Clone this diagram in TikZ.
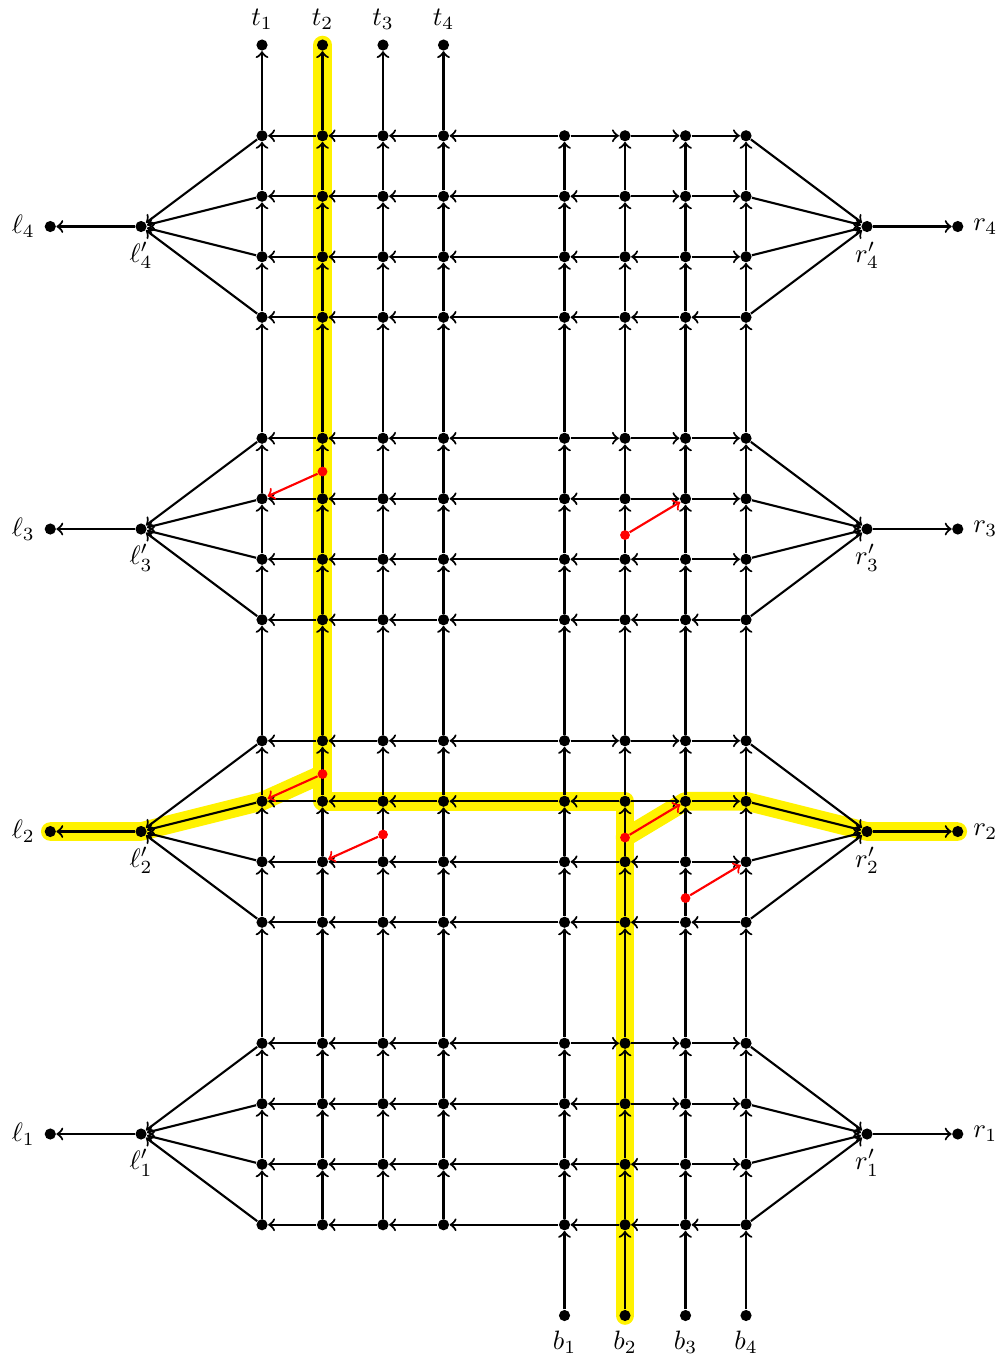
\documentclass[tikz,border=0pt]{standalone}
\usetikzlibrary{backgrounds}
\begin{document}
\begin{tikzpicture}[x=0.8cm, y=0.8cm, >=to,
        dot/.style={circle, fill=black, inner sep=0pt, minimum size=4.2pt},
        reddot/.style={circle, fill=red, inner sep=0pt, minimum size=3.7pt},
        edge/.style={thick, ->},
        redge/.style={thick, ->, red},
        highlight/.style={line width=7pt, yellow, line cap=round, line join=round}]
        \useasboundingbox (-4.331,-21.752) rectangle (12.281,0.744);

        % -- Grille : 4 groupes de 4 lignes --
        \foreach \g in {1,...,4} {
            \foreach \k in {0,...,3} {
                \pgfmathsetmacro{\y}{-1.5-5*(4-\g)-\k}
                \foreach \j/\x in {1/0,2/1,3/2,4/3,5/5,6/6,7/7,8/8}
                    \node[dot] (n\g\k\j) at (\x,\y) {};
            }
            % Sommets gauche / droite du groupe
            \pgfmathsetmacro{\yc}{-3-5*(4-\g)}
            \node[dot, label=below:{$\ell'_{\g}$}] (lp\g) at (-2,\yc) {};
            \node[dot, label=left:{$\ell_{\g}$}] (l\g) at (-3.5,\yc) {};
            \node[dot, label=below:{$r'_{\g}$}] (rp\g) at (10,\yc) {};
            \node[dot, label=right:{$r_{\g}$}] (r\g) at (11.5,\yc) {};
        }

        % Sommets haut (t) et bas (b)
        \foreach \j/\x in {1/0,2/1,3/2,4/3} \node[dot, label=above:{$t_{\j}$}] (t\j) at (\x,0) {};
        \foreach \j/\x in {1/5,2/6,3/7,4/8} \node[dot, label=below:{$b_{\j}$}] (b\j) at (\x,-21) {};

        % -- Arcs horizontaux --
        \foreach \g in {1,...,4} {
            \foreach \k in {0,...,3} {
                % partie gauche : vers la gauche
                \foreach \j [evaluate=\j as \i using int(\j+1)] in {1,...,4}
                    \draw[edge] (n\g\k\i) -- (n\g\k\j);
                % partie droite : source en colonne 5+k
                \foreach \m in {0,1,2} {
                    \pgfmathtruncatemacro{\ja}{5+\m}
                    \pgfmathtruncatemacro{\jb}{6+\m}
                    \ifnum\m<\k
                        \draw[edge] (n\g\k\jb) -- (n\g\k\ja);
                    \else
                        \draw[edge] (n\g\k\ja) -- (n\g\k\jb);
                    \fi
                }
                % éventails
                \draw[edge] (n\g\k1) -- (lp\g);
                \draw[edge] (n\g\k8) -- (rp\g);
            }
            \draw[edge] (lp\g) -- (l\g);
            \draw[edge] (rp\g) -- (r\g);
        }

        % -- Arcs verticaux (vers le haut) --
        \foreach \j in {1,...,8} {
            \foreach \g in {1,...,4} {
                \foreach \k in {1,2,3} {
                    \pgfmathtruncatemacro{\kl}{\k-1}
                    \draw[edge] (n\g\k\j) -- (n\g\kl\j);
                }
            }
            \foreach \g in {2,3,4} {
                \pgfmathtruncatemacro{\gl}{\g-1}
                \draw[edge] (n\gl0\j) -- (n\g3\j);
            }
        }
        \foreach \j in {1,...,4} \draw[edge] (n40\j) -- (t\j);
        \foreach \i [evaluate=\i as \j using int(\i+4)] in {1,...,4} \draw[edge] (b\i) -- (n13\j);

        % -- Raccourcis rouges --
        \node[reddot] (x1) at (1,-7.05) {};
        \node[reddot] (x2) at (6,-8.1) {};
        \node[reddot] (x3) at (1,-12.05) {};
        \node[reddot] (x4) at (2,-13.05) {};
        \node[reddot] (x5) at (6,-13.1) {};
        \node[reddot] (x6) at (7,-14.1) {};
        \draw[redge] (x1) -- (n311);
        \draw[redge] (x2) -- (n317);
        \draw[redge] (x3) -- (n211);
        \draw[redge] (x4) -- (n222);
        \draw[redge] (x5) -- (n217);
        \draw[redge] (x6) -- (n228);

        % -- Chemin surligné --
        \begin{pgfonlayer}{background}
            \draw[highlight] (t2.center) -- (n212.center) -- (n216.center) -- (b2.center);
            \draw[highlight] (l2.center) -- (lp2.center) -- (n211.center) -- (x3.center);
            \draw[highlight] (x5.center) -- (n217.center) -- (n218.center) -- (rp2.center) -- (r2.center);
        \end{pgfonlayer}
    \end{tikzpicture}
\end{document}
